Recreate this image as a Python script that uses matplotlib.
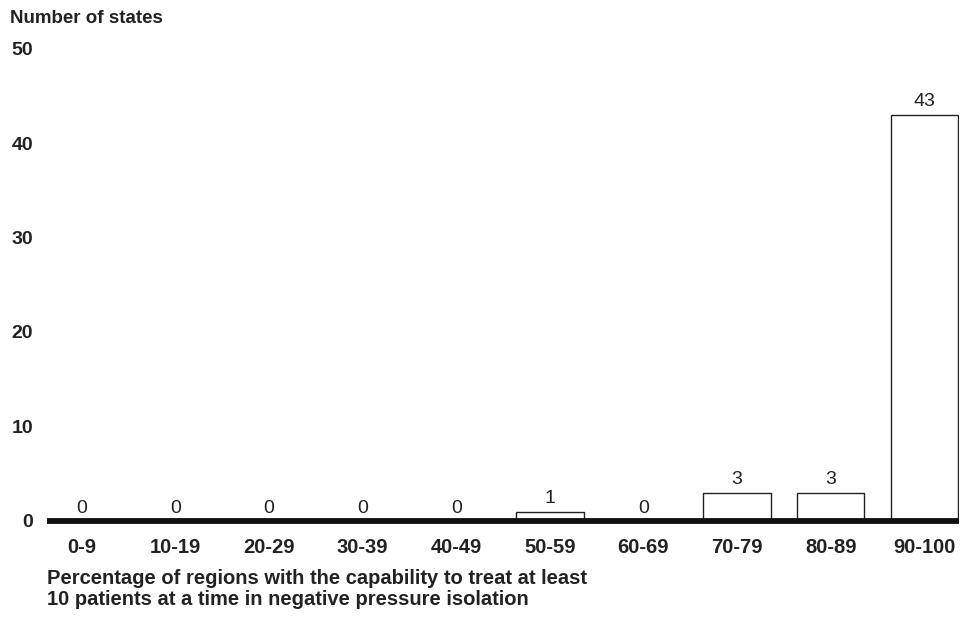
import numpy as np
import matplotlib
matplotlib.use("Agg")
import matplotlib.pyplot as plt

plt.rcParams['font.family'] = ['Liberation Sans', 'DejaVu Sans']

# --- data -------------------------------------------------------------------
categories = ["0-9", "10-19", "20-29", "30-39", "40-49",
              "50-59", "60-69", "70-79", "80-89", "90-100"]
num_states = [0, 0, 0, 0, 0, 1, 0, 3, 3, 43]
y_ticks = [0, 10, 20, 30, 40, 50]
# ---------------------------------------------------------------------------

fig = plt.figure(figsize=(9.74, 6.18), dpi=100)
ax = fig.add_axes([0.0483, 0.157, 0.9363, 0.7645])

x = np.arange(len(categories))
ax.bar(x, num_states, width=0.72, color="white", edgecolor="#222222",
       linewidth=1.0, zorder=2)

for xi, v in zip(x, num_states):
    ax.text(xi, v + 0.45, str(v), ha="center", va="bottom",
            fontsize=14, color="#222222")

ax.set_xlim(-0.37, len(categories) - 1 + 0.37)
ax.set_ylim(0, 50)
ax.axhline(0, color="#111111", linewidth=4.2, zorder=3, clip_on=False,
           solid_capstyle="butt")

for s in ax.spines.values():
    s.set_visible(False)
ax.set_xticks(x)
ax.set_xticklabels(categories, fontsize=14.5, fontweight="bold", color="#222222")
ax.set_yticks(y_ticks)
ax.set_yticklabels([str(t) for t in y_ticks], fontsize=14,
                   fontweight="bold", color="#222222")
ax.tick_params(axis="both", length=0)
ax.tick_params(axis="x", pad=12)
ax.tick_params(axis="y", pad=10)

fig.text(0.0103, 0.970, "Number of states", fontsize=13.5, fontweight="bold",
         color="#222222", va="center", ha="left")
fig.text(0.0483, 0.047,
         "Percentage of regions with the capability to treat at least\n"
         "10 patients at a time in negative pressure isolation",
         fontsize=14.5, fontweight="bold", color="#222222",
         va="center", ha="left", linespacing=1.1)

fig.savefig("out.png", dpi=100)
